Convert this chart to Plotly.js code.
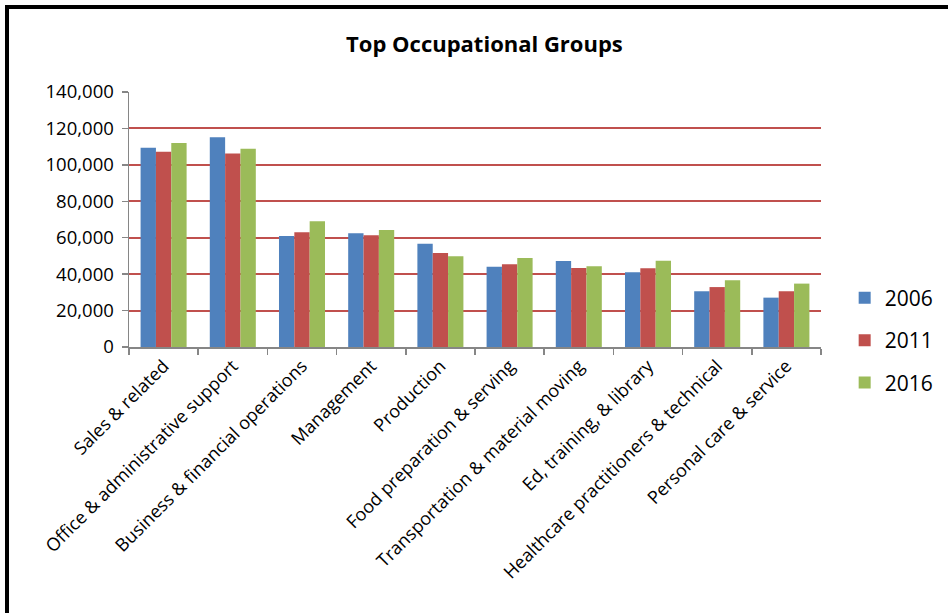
<!DOCTYPE html>
<html>
<head>
<meta charset="utf-8">
<script src="https://cdn.plot.ly/plotly-3.0.1.min.js"></script>
<style>
  html, body { margin: 0; padding: 0; background: #fff; }
  #chart { width: 948px; height: 613px; position: absolute; left: 0; top: 0; }
  #frame { position: absolute; left: 5px; top: 5px; width: 943px; height: 608px;
           border-left: 4px solid #000; border-top: 4px solid #000; box-sizing: border-box;
           pointer-events: none; }
</style>
</head>
<body>
<div id="chart"></div>
<div id="frame"></div>
<script>
const categories = [
  "Sales & related",
  "Office & administrative support",
  "Business & financial operations",
  "Management",
  "Production",
  "Food preparation & serving",
  "Transportation & material moving",
  "Ed, training, & library",
  "Healthcare practitioners & technical",
  "Personal care & service"
];
const values2006 = [109400, 115100, 60900, 62400, 56700, 44100, 47200, 41000, 30600, 27100];
const values2011 = [107200, 106300, 63000, 61300, 51600, 45400, 43400, 43200, 32900, 30600];
const values2016 = [112000, 108900, 69000, 64200, 49800, 48900, 44300, 47400, 36600, 34800];
const seriesNames = ["2006", "2011", "2016"];
const yTickVals = [0, 20000, 40000, 60000, 80000, 100000, 120000, 140000];
const yTickText = ["0", "20,000", "40,000", "60,000", "80,000", "100,000", "120,000", "140,000"];

const colors = ["#4F81BD", "#C0504D", "#9BBB59"];
const seriesValues = [values2006, values2011, values2016];

const traces = seriesValues.map((vals, i) => ({
  type: "bar",
  name: seriesNames[i],
  x: categories,
  y: vals,
  legendgroup: "g" + i,
  marker: { color: colors[i], line: { width: 0 } },
  hoverinfo: "x+y+name"
}));

const layout = {
  width: 948,
  height: 613,
  paper_bgcolor: "#fff",
  plot_bgcolor: "#fff",
  font: { family: "Open Sans, sans-serif", color: "#000" },
  title: {
    text: "<b>Top Occupational Groups</b>",
    font: { size: 22, family: "Open Sans, sans-serif", color: "#000" },
    x: 0.511, xanchor: "center",
    y: 0.928, yanchor: "middle",
    automargin: false
  },
  margin: { l: 129, r: 127, t: 92, b: 266 },
  barmode: "group",
  bargap: 0.335,
  bargroupgap: 0,
  showlegend: true,
  legend: {
    xref: "container", yref: "container",
    x: 0.891, xanchor: "left",
    y: 0.445, yanchor: "middle",
    font: { size: 21, color: "#000" },
    traceorder: "grouped",
    tracegroupgap: 12,
    itemwidth: 30,
    bgcolor: "rgba(0,0,0,0)"
  },
  xaxis: {
    type: "category",
    automargin: false,
    showline: true,
    linecolor: "#868686",
    linewidth: 1.5,
    ticks: "outside",
    tickcolor: "#868686",
    ticklen: 6,
    tickwidth: 1.5,
    tickson: "boundaries",
    tickangle: -45,
    tickfont: { size: 18, color: "#000" },
    showgrid: false,
    zeroline: false
  },
  yaxis: {
    range: [0, 140000],
    automargin: false,
    tickvals: yTickVals,
    ticktext: yTickText,
    showline: true,
    linecolor: "#868686",
    linewidth: 1.5,
    ticks: "outside",
    tickcolor: "#868686",
    ticklen: 6,
    tickwidth: 1.5,
    tickfont: { size: 18.5, color: "#000" },
    showgrid: true,
    gridcolor: "#C0504D",
    gridwidth: 2,
    zeroline: false,
    ticklabelstandoff: 4
  }
};

Plotly.newPlot("chart", traces, layout, { displayModeBar: false, staticPlot: true });
</script>
</body>
</html>
